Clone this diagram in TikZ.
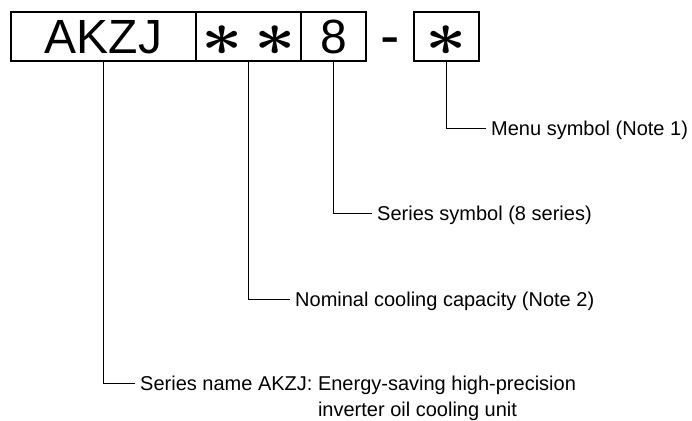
\documentclass[tikz,border=0pt]{standalone}
\usepackage{fontspec}
\setmainfont{Liberation Sans}
\usetikzlibrary{positioning}
\tikzset{
  field/.style={draw, line width=1.2pt, minimum height=49pt, inner sep=0pt,
    text height=34.4pt, text depth=0pt, font=\fontsize{48}{48}\selectfont},
  lbl/.style={anchor=west, inner sep=5pt, text height=14.3pt, text depth=0pt,
    font=\fontsize{20}{26}\selectfont},
  lead/.style={line width=1pt}
}
\newcommand{\bigast}{\smash{\raisebox{-1.7pt}{\scalebox{7.2}[6.3]{\normalsize\boldmath$\ast$}}}}

\begin{document}
\begin{tikzpicture}[x=1pt,y=-1pt]
\useasboundingbox (0,0) rectangle (692,420);

\node (field 1) at (103.5,36.5) [field, minimum width=185pt] {AKZJ};
\node (field 2) at (248.5,36.5) [field, minimum width=105pt] {\bigast\hspace{12pt}\bigast};
\node (field 3) at (333.5,36.5) [field, minimum width=65pt] {8};
\node (dash) at (390,56) [anchor=base, inner sep=0pt, font=\fontsize{58}{58}\selectfont] {-};
\node (field 4) at (446.5,36.5) [field, minimum width=65pt] {\bigast};

\node (label 1) at (486,128) [lbl] {Menu symbol (Note 1)};
\node (label 2) at (372,213) [lbl] {Series symbol (8 series)};
\node (label 3) at (290,299) [lbl] {Nominal cooling capacity (Note 2)};
\node (label 4) at (135,383) [lbl] {Series name AKZJ: \begin{tabular}[t]{@{}l@{}}Energy-saving high-precision\\inverter oil cooling unit\end{tabular}};

\draw[lead] (field 4.south) |- (label 1.west);
\draw[lead] (field 3.south) |- (label 2.west);
\draw[lead] (field 2.south) |- (label 3.west);
\draw[lead] (field 1.south) |- (label 4.west);

\end{tikzpicture}
\end{document}
